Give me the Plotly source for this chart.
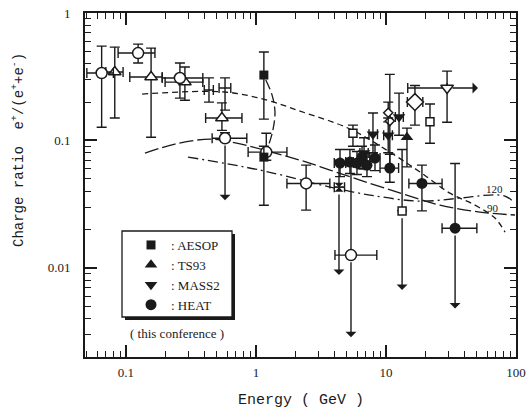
import numpy as np
import plotly.graph_objects as go

ink = "#1a1a1a"

# ---------------- data (Energy in GeV, charge ratio e+/(e+ + e-)) ----------------
# AESOP (filled squares)
aesop_E = [1.15, 1.15]
aesop_R = [0.326, 0.074]
aesop_Rlo = [0.147, 0.031]
aesop_Rhi = [0.494, 0.090]

# TS93 (filled up-triangles)
ts93_E = [14.5]
ts93_R = [0.106]
ts93_Rlo = [0.062]
ts93_Rhi = [0.125]

# MASS2 (filled down-triangles)
mass2_E = [6.78, 7.94, 10.4, 12.6]
mass2_R = [0.0796, 0.112, 0.110, 0.153]
mass2_Elo = [6.3, 7.4, 9.6, 11.8]
mass2_Ehi = [7.3, 8.6, 11.2, 13.6]
mass2_Rlo = [0.060, 0.080, 0.080, 0.110]
mass2_Rhi = [0.105, 0.164, 0.150, 0.235]

# HEAT (filled circles)
heat_E = [4.43, 5.28, 5.98, 6.54, 7.14, 8.23, 10.7, 18.9, 34.0]
heat_R = [0.0665, 0.0677, 0.0665, 0.074, 0.064, 0.0728, 0.0607, 0.046, 0.0205]
heat_Elo = [4.0, 4.9, 5.6, 6.3, 6.8, 7.5, 9.0, 15.0, 27.0]
heat_Ehi = [4.9, 5.6, 6.3, 6.8, 7.5, 9.0, 12.5, 27.0, 50.0]
heat_Rlo = [0.052, 0.055, 0.054, 0.060, 0.052, 0.058, 0.047, 0.028, 0.0205]
heat_Rhi = [0.085, 0.085, 0.082, 0.090, 0.080, 0.092, 0.078, 0.064, 0.066]

# earlier measurements (open symbols)
circ_E = [0.065, 0.124, 0.26, 0.578, 1.20, 2.43, 5.38]
circ_R = [0.338, 0.485, 0.309, 0.104, 0.081, 0.046, 0.0126]
circ_Elo = [0.050, 0.087, 0.19, 0.46, 0.87, 1.73, 4.05]
circ_Ehi = [0.080, 0.167, 0.39, 0.85, 1.73, 3.70, 8.5]
circ_Rlo = [0.127, 0.405, 0.215, 0.104, 0.070, 0.0284, 0.0126]
circ_Rhi = [0.550, 0.570, 0.405, 0.115, 0.114, 0.064, 0.065]

tri_E = [0.082, 0.156, 0.284, 0.547]
tri_R = [0.344, 0.315, 0.287, 0.150]
tri_Elo = [0.070, 0.107, 0.20, 0.41]
tri_Ehi = [0.095, 0.19, 0.39, 0.78]
tri_Rlo = [0.150, 0.106, 0.207, 0.120]
tri_Rhi = [0.540, 0.530, 0.377, 0.197]

sq_E = [5.57, 13.3, 21.8]
sq_R = [0.114, 0.028, 0.140]
sq_Rlo = [0.090, 0.028, 0.095]
sq_Rhi = [0.132, 0.085, 0.193]

dia_E = [16.7]
dia_R = [0.200]
dia_Elo = [14.6]
dia_Ehi = [19.2]
dia_Rlo = [0.132]
dia_Rhi = [0.270]

dtri_E = [29.5]
dtri_R = [0.258]
dtri_Elo = [14.7]
dtri_Rlo = [0.139]
dtri_Rhi = [0.350]

small_E = [10.4, 10.7]
small_R = [0.165, 0.142]
small_Rlo = [0.140, 0.060]
small_Rhi = [0.200, 0.330]

hg_E = [4.35]
hg_R = [0.043]
hg_Elo = [4.0]
hg_Ehi = [4.8]
hg_Rhi = [0.070]

cross_E = [0.435, 0.578]
cross_R = [0.249, 0.258]
cross_Elo = [0.40, 0.52]
cross_Ehi = [0.47, 0.64]
cross_Rlo = [0.200, 0.173]
cross_Rhi = [0.310, 0.310]

# upper limits (downward arrows)
ul_E = [0.578, 4.35, 5.38, 13.3, 34.0]
ul_from = [0.104, 0.043, 0.0126, 0.028, 0.0205]
ul_to = [0.034, 0.0088, 0.00286, 0.0067, 0.0048]

# energy lower limit (rightward arrow)
rl_R = [0.258]
rl_from = [29.5]
rl_to = [51.0]

# model curves
c1_E = [0.133, 0.578, 1.215, 2.18, 5.28, 10.7, 18.3, 31.0, 48.4, 68.9, 82.3]
c1_R = [0.231, 0.240, 0.207, 0.170, 0.123, 0.081, 0.0565, 0.0386, 0.0311, 0.0246, 0.0191]
c2_E = [0.140, 0.238, 0.443, 0.653, 2.18, 3.71, 6.31, 12.9, 26.0, 52.8, 98.2]
c2_R = [0.0796, 0.0937, 0.1026, 0.097, 0.0701, 0.0586, 0.0489, 0.0386, 0.0311, 0.0274, 0.0260]
c3_E = [0.300, 1.07, 3.71, 7.53, 18.3, 37.1, 63.1, 82.3, 98.2]
c3_R = [0.0741, 0.0586, 0.0431, 0.0373, 0.0334, 0.0353, 0.0373, 0.0366, 0.0323]
arc_E = [1.19, 1.33, 1.40, 1.35, 1.23]
arc_R = [0.298, 0.227, 0.167, 0.121, 0.087]

curve_labels = ["120", "90"]
label_E = [68.9, 66.5]
label_R = [0.0416, 0.0295]


def errs(v, lo, hi):
    v = np.asarray(v, float)
    return dict(type="data", symmetric=False,
                array=list(np.asarray(hi, float) - v),
                arrayminus=list(v - np.asarray(lo, float)),
                color=ink, thickness=1.4, width=5)


fig = go.Figure()

# model curves
fig.add_trace(go.Scatter(x=c1_E, y=c1_R, mode="lines", showlegend=False,
                         line=dict(color=ink, width=1.3, dash="6px,4px", shape="spline")))
fig.add_trace(go.Scatter(x=c2_E, y=c2_R, mode="lines", showlegend=False,
                         line=dict(color=ink, width=1.3, dash="14px,4px", shape="spline")))
fig.add_trace(go.Scatter(x=c3_E, y=c3_R, mode="lines", showlegend=False,
                         line=dict(color=ink, width=1.3, dash="10px,4px,2px,4px", shape="spline")))
fig.add_trace(go.Scatter(x=arc_E, y=arc_R, mode="lines", showlegend=False,
                         line=dict(color=ink, width=1.3, dash="10px,4px", shape="spline")))

# crosses without symbol
fig.add_trace(go.Scatter(x=cross_E, y=cross_R, mode="markers", showlegend=False,
                         marker=dict(size=1, color=ink),
                         error_x=errs(cross_E, cross_Elo, cross_Ehi),
                         error_y=errs(cross_R, cross_Rlo, cross_Rhi)))

open_marker = lambda sym, size: dict(symbol=sym, size=size, color="white",
                                     line=dict(color=ink, width=1.5))

fig.add_trace(go.Scatter(x=tri_E, y=tri_R, mode="markers", showlegend=False,
                         marker=open_marker("triangle-up", 11),
                         error_x=errs(tri_E, tri_Elo, tri_Ehi),
                         error_y=errs(tri_R, tri_Rlo, tri_Rhi)))
fig.add_trace(go.Scatter(x=circ_E, y=circ_R, mode="markers", showlegend=False,
                         marker=open_marker("circle", 11),
                         error_x=errs(circ_E, circ_Elo, circ_Ehi),
                         error_y=errs(circ_R, circ_Rlo, circ_Rhi)))
fig.add_trace(go.Scatter(x=sq_E, y=sq_R, mode="markers", showlegend=False,
                         marker=open_marker("square", 8),
                         error_y=errs(sq_R, sq_Rlo, sq_Rhi)))
fig.add_trace(go.Scatter(x=dia_E, y=dia_R, mode="markers", showlegend=False,
                         marker=open_marker("diamond", 13),
                         error_x=errs(dia_E, dia_Elo, dia_Ehi),
                         error_y=errs(dia_R, dia_Rlo, dia_Rhi)))
fig.add_trace(go.Scatter(x=dtri_E, y=dtri_R, mode="markers", showlegend=False,
                         marker=open_marker("triangle-down", 11),
                         error_x=errs(dtri_E, dtri_Elo, dtri_E),
                         error_y=errs(dtri_R, dtri_Rlo, dtri_Rhi)))
fig.add_trace(go.Scatter(x=small_E, y=small_R, mode="markers", showlegend=False,
                         marker=open_marker("diamond", 7),
                         error_y=errs(small_R, small_Rlo, small_Rhi)))
fig.add_trace(go.Scatter(x=hg_E, y=hg_R, mode="markers", showlegend=False,
                         marker=dict(symbol="hourglass", size=9, color=ink),
                         error_x=errs(hg_E, hg_Elo, hg_Ehi),
                         error_y=errs(hg_R, hg_R, hg_Rhi)))

# filled symbols (this conference)
fig.add_trace(go.Scatter(x=aesop_E, y=aesop_R, mode="markers", name=": AESOP",
                         marker=dict(symbol="square", size=9, color=ink),
                         error_y=errs(aesop_R, aesop_Rlo, aesop_Rhi)))
fig.add_trace(go.Scatter(x=ts93_E, y=ts93_R, mode="markers", name=": TS93",
                         marker=dict(symbol="triangle-up", size=11, color=ink),
                         error_y=errs(ts93_R, ts93_Rlo, ts93_Rhi)))
fig.add_trace(go.Scatter(x=mass2_E, y=mass2_R, mode="markers", name=": MASS2",
                         marker=dict(symbol="triangle-down", size=11, color=ink),
                         error_x=errs(mass2_E, mass2_Elo, mass2_Ehi),
                         error_y=errs(mass2_R, mass2_Rlo, mass2_Rhi)))
fig.add_trace(go.Scatter(x=heat_E, y=heat_R, mode="markers", name=": HEAT",
                         marker=dict(symbol="circle", size=11, color=ink),
                         error_x=errs(heat_E, heat_Elo, heat_Ehi),
                         error_y=errs(heat_R, heat_Rlo, heat_Rhi)))

annotations = []
for e, r0, r1 in zip(ul_E, ul_from, ul_to):
    annotations.append(dict(x=np.log10(e), y=np.log10(r1), ax=np.log10(e), ay=np.log10(r0) - 0.045,
                            xref="x", yref="y", axref="x", ayref="y", text="", showarrow=True,
                            arrowhead=1, arrowsize=1.3, arrowwidth=1.4, arrowcolor=ink))
for r, e0, e1 in zip(rl_R, rl_from, rl_to):
    annotations.append(dict(x=np.log10(e1), y=np.log10(r), ax=np.log10(e0) + 0.03, ay=np.log10(r),
                            xref="x", yref="y", axref="x", ayref="y", text="", showarrow=True,
                            arrowhead=1, arrowsize=1.3, arrowwidth=1.4, arrowcolor=ink))
for t, e, r in zip(curve_labels, label_E, label_R):
    annotations.append(dict(x=np.log10(e), y=np.log10(r), xref="x", yref="y", text=t, showarrow=False,
                            font=dict(family="Liberation Serif", size=11, color=ink)))

# plot area: 431 x 344 px
annotations.append(dict(x=-67 / 431, y=207 / 344, xref="paper", yref="paper", textangle=-90,
                        xanchor="center", yanchor="middle",
                        text="Charge ratio  e<sup>+</sup>/(e<sup>+</sup>+e<sup>-</sup>)", showarrow=False,
                        font=dict(family="Liberation Mono", size=14, color=ink)))
annotations.append(dict(x=0.5, y=-43 / 344, xref="paper", yref="paper",
                        xanchor="center", yanchor="middle",
                        text="Energy ( GeV )", showarrow=False,
                        font=dict(family="Liberation Mono", size=15, color=ink)))
annotations.append(dict(x=92 / 431, y=24 / 344, xref="paper", yref="paper",
                        xanchor="center", yanchor="middle",
                        text="( this conference )", showarrow=False,
                        font=dict(family="Liberation Serif", size=13, color=ink)))

shapes = [
    dict(type="rect", xref="paper", yref="paper", x0=40 / 431, x1=150 / 431, y0=37 / 344, y1=123 / 344,
         fillcolor=ink, line=dict(width=0), layer="above"),
    dict(type="rect", xref="paper", yref="paper", x0=37 / 431, x1=147 / 431, y0=40 / 344, y1=126 / 344,
         fillcolor="white", line=dict(color=ink, width=1.3), layer="above"),
]

axis_common = dict(type="log", dtick=1, ticks="inside", ticklen=12, tickwidth=1.5, tickcolor=ink,
                   showline=True, linewidth=2, linecolor=ink, mirror="ticks", showgrid=False,
                   zeroline=False, automargin=False, ticklabeloverflow="allow",
                   tickfont=dict(family="Liberation Serif", size=13, color=ink),
                   minor=dict(ticks="inside", ticklen=6, tickwidth=1.2, tickcolor=ink,
                              dtick="D1", showgrid=False))

# plot frame at x 85..516, y 13..357 of the 530x412 page
fig.update_layout(
    width=530, height=412,
    margin=dict(l=85, r=14, t=13, b=55, autoexpand=False),
    paper_bgcolor="white", plot_bgcolor="white",
    xaxis=dict(range=[np.log10(0.0484), 2], ticklabelstandoff=2, **axis_common),
    yaxis=dict(range=[np.log10(0.002), 0], ticklabelstandoff=10, **axis_common),
    showlegend=True,
    legend=dict(x=46 / 431, y=127 / 344, xanchor="left", yanchor="top", bgcolor="rgba(0,0,0,0)",
                borderwidth=0, font=dict(family="Liberation Serif", size=13, color=ink),
                itemwidth=30, tracegroupgap=0),
    annotations=annotations,
    shapes=shapes,
)

fig.write_html("out.html", config={"displayModeBar": False},
               post_script="document.body.style.margin='0px';")
